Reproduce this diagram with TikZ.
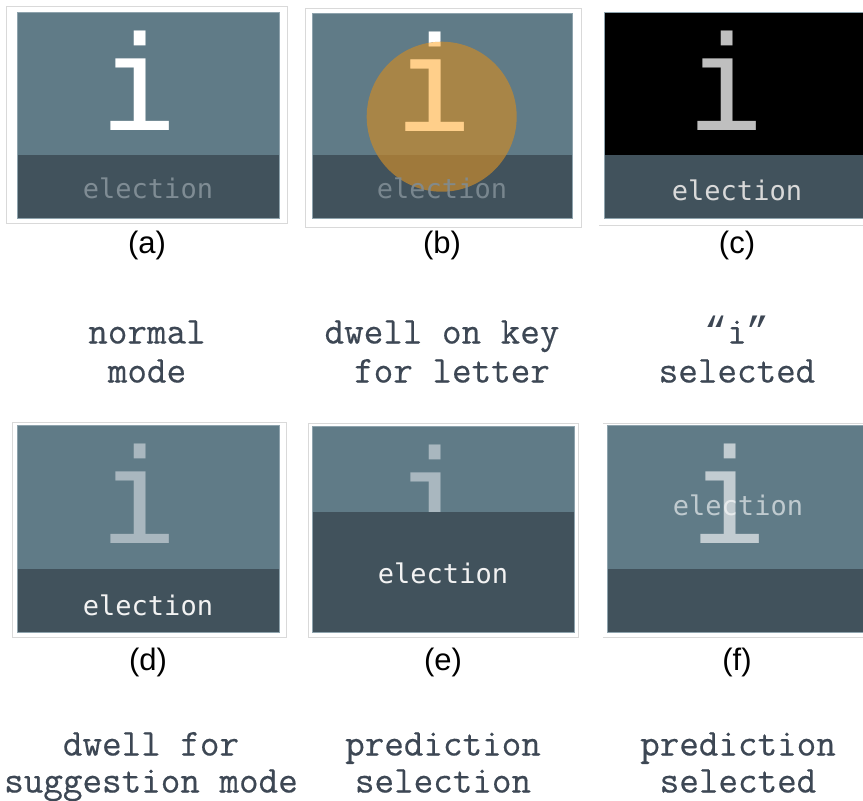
\documentclass[tikz,border=0pt]{standalone}
\usepackage{fontspec}
\newfontfamily\monoglyph{DejaVu Sans Mono}
\newfontfamily\capfont[FakeBold=0.4]{Latin Modern Mono}
\newfontfamily\quotefont{Liberation Mono}
\newfontfamily\labfont{Liberation Sans}
\definecolor{keytop}{HTML}{607B87}
\definecolor{keyband}{HTML}{41525C}
\definecolor{framegray}{HTML}{D9D9D9}
\definecolor{keyedge}{HTML}{8EA3AD}
\definecolor{captext}{HTML}{3D4754}
\definecolor{dwellorange}{HTML}{C4892F}
\definecolor{iorange}{HTML}{FFCF8A}
\definecolor{wordgray}{HTML}{7F8C94}
\definecolor{igray}{HTML}{A9B7BF}
\begin{document}
\begin{tikzpicture}[x=1pt,y=-1pt,
  bigi/.style={font=\fontsize{131}{131}\selectfont\monoglyph, inner sep=0pt, anchor=base},
  word/.style={font=\fontsize{27}{27}\selectfont\monoglyph, inner sep=0pt},
  lab/.style={font=\fontsize{31}{31}\selectfont\labfont, inner sep=0pt, text=black},
  captionnode/.style={font=\fontsize{38}{38}\selectfont\capfont, text=captext, inner sep=0pt, anchor=base},
  framebox/.style={draw=framegray, line width=0.8pt, fill=white},
  edgeline/.style={draw=keyedge, line width=0.6pt},
  thinline/.style={draw=framegray, line width=0.8pt}]
\useasboundingbox (0,0) rectangle (863,801);
\fill[white] (0,0) rectangle (863,801);

% (a)
\draw[framebox] (6,6) rectangle (287,223);
\fill[keytop] (17,12) rectangle (279,155);
\fill[keyband] (17,155) rectangle (279,218);
\draw[edgeline] (17,12) rectangle (279,218);
\node[bigi, text=white] (ia) at (139,130) {i};
\node[word, text=wordgray] (wa) at (148,188) {election};
\node[lab] (la) at (147,245) {(a)};

% (b)
\draw[framebox] (305,8) rectangle (581,227);
\fill[keytop] (312,13) rectangle (572,155);
\fill[keyband] (312,155) rectangle (572,218);
\draw[edgeline] (312,13) rectangle (572,218);
\node[bigi, text=white] (ib) at (434,131) {i};
\fill[dwellorange, opacity=0.72] (441.7,116.7) circle (75pt);
\begin{scope}
\clip (441.7,116.7) circle (75pt);
\node[bigi, text=iorange] (ibo) at (434,131) {i};
\end{scope}
\node[word, text=wordgray, opacity=0.9] (wb) at (442,188) {election};
\node[lab] (lb) at (442,245) {(b)};

% (c)
\fill[black] (604,12) rectangle (863,155);
\fill[keyband] (604,155) rectangle (863,218);
\draw[edgeline] (863,12) -- (604,12) -- (604,218) -- (863,218);
\draw[thinline] (599,225) -- (863,225);
\node[bigi, text=black!25] (ic) at (726,130) {i};
\node[word, text=black!15] (wc) at (737,190) {election};
\node[lab] (lc) at (737,245) {(c)};

% (d)
\draw[framebox] (12,422) rectangle (286,637);
\fill[keytop] (17,425) rectangle (279,569);
\fill[keyband] (17,569) rectangle (279,632);
\draw[edgeline] (17,425) rectangle (279,632);
\node[bigi, text=igray] (id) at (139,543) {i};
\node[word, text=black!5] (wd) at (148,605) {election};
\node[lab] (ld) at (148,662) {(d)};

% (e)
\draw[framebox] (308,423) rectangle (578,637);
\fill[keytop] (312,426) rectangle (574,632);
\node[bigi, text=igray] (ie) at (434,544) {i};
\fill[keyband] (312,512) rectangle (574,632);
\draw[edgeline] (312,426) rectangle (574,632);
\node[word, text=black!5] (we) at (443,573) {election};
\node[lab] (le) at (443,662) {(e)};

% (f)
\draw[thinline] (603,423) -- (863,423);
\draw[thinline] (603,637) -- (863,637);
\fill[keytop] (607,425) rectangle (863,569);
\fill[keyband] (607,569) rectangle (863,632);
\draw[edgeline] (863,425) -- (607,425) -- (607,632) -- (863,632);
\node[bigi, text=white, opacity=0.62] (if) at (729,543) {i};
\node[word, text=white, opacity=0.6] (wf) at (738,505) {election};
\node[lab] (lf) at (737,662) {(f)};

% captions
\node[captionnode] (ca1) at (147,343.5) {normal};
\node[captionnode] (ca2) at (147,382.5) {mode};
\node[captionnode] (cb1) at (442,343.5) {dwell on key};
\node[captionnode] (cb2) at (452,382.5) {for letter};
\node[captionnode] (cc1) at (737,343.5) {{\quotefont “}i{\quotefont ”}};
\node[captionnode] (cc2) at (737,382.5) {selected};
\node[captionnode] (cd1) at (151,755.5) {dwell for};
\node[captionnode] (cd2) at (151,792.5) {suggestion mode};
\node[captionnode] (ce1) at (443,755.5) {prediction};
\node[captionnode] (ce2) at (443,792.5) {selection};
\node[captionnode] (cf1) at (738,755.5) {prediction};
\node[captionnode] (cf2) at (738,792.5) {selected};
\end{tikzpicture}
\end{document}
